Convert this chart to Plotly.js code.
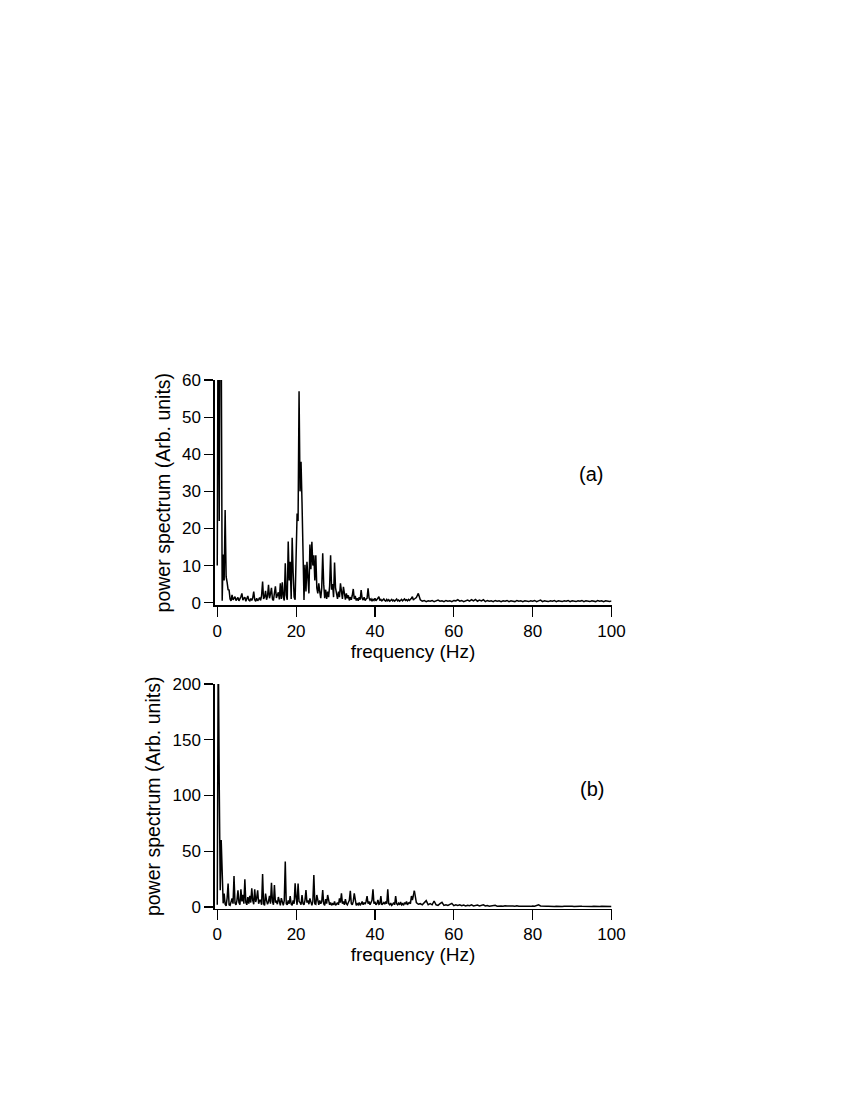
<!DOCTYPE html>
<html>
<head>
<meta charset="utf-8">
<script src="https://cdn.plot.ly/plotly-3.0.1.min.js"></script>
<style>html,body{margin:0;padding:0;background:#fff;}#chart{width:850px;height:1100px;}</style>
</head>
<body>
<div id="chart"></div>
<script>
// Panel (a): power spectrum, 0-50 Hz sampled every 0.25 Hz
const freqStartLowA = 0, freqStepLowA = 0.25;
const powerLowA = [
  10, 95, 22, 90, 75, 0.5, 13, 6, 25, 7, 5.5, 3.5, 3.4, 1.0, 0.5, 2.1, 0.8, 1.2, 1.6, 0.6,
  0.9, 1.4, 0.5, 0.9, 1.6, 2.5, 0.7, 1.2, 1.5, 0.4, 0.9, 1.8, 0.7, 0.5, 1.1, 0.6, 1.3, 3.0, 0.8, 0.4,
  1.2, 0.5, 0.9, 1.4, 0.6, 2.0, 5.7, 1.0, 1.5, 3.2, 0.8, 1.8, 4.8, 1.2, 2.4, 4.0, 1.0, 0.6, 2.6, 4.4,
  1.3, 2.2, 2.8, 0.9, 5.2, 1.0, 5.5, 1.5, 0.6, 10.6, 2.0, 0.8, 16.5, 6.0, 11.0, 1.0, 17.5, 8.0, 1.5, 0.8,
  12.0, 24.0, 22.0, 57.0, 30.0, 38.0, 27.0, 10.0, 0.7, 10.2, 3.0, 11.0, 6.5, 2.5, 15.7, 9.0, 16.4, 10.0, 12.8, 6.0,
  12.8, 4.0, 2.5, 5.2, 3.0, 1.2, 4.0, 13.3, 5.0, 1.2, 3.5, 1.0, 3.0, 1.5, 4.5, 12.8, 3.5, 5.0, 1.5, 10.8,
  4.0, 2.0, 1.0, 3.0, 1.5, 5.2, 2.0, 1.0, 4.3, 1.5, 0.8, 2.5, 1.2, 2.0, 0.6, 1.5, 0.8, 2.0, 3.7, 1.0,
  1.8, 0.6, 1.2, 0.5, 1.5, 0.8, 3.4, 1.2, 0.7, 1.5, 0.6, 1.0, 1.2, 3.9, 1.3, 0.7, 1.0, 0.4, 0.9, 0.6,
  1.2, 0.5, 0.8, 1.4, 1.6, 0.6, 0.9, 0.5, 0.7, 1.0, 0.6, 0.4, 0.9, 0.5, 0.8, 0.4, 0.6, 0.9, 0.5, 0.7,
  0.4, 0.8, 1.0, 0.5, 0.7, 0.4, 0.6, 0.9, 0.5, 0.7, 1.0, 0.6, 0.8, 0.5, 0.9, 0.6, 0.8, 1.2, 1.6, 0.7,
  1.0
];
// Panel (a): 50-100 Hz sampled every 0.5 Hz
const freqStartHighA = 50, freqStepHighA = 0.5;
const powerHighA = [
  1.0, 1.4, 2.5, 0.8, 0.4, 0.6, 0.3, 0.5, 0.4, 0.6, 0.3, 0.5, 0.7, 0.4, 0.5, 0.3, 0.6, 0.4, 0.5, 0.3,
  0.6, 0.5, 0.8, 0.4, 0.6, 0.3, 0.5, 0.7, 0.4, 0.8, 0.5, 0.9, 0.4, 0.7, 0.5, 0.8, 0.3, 0.6, 0.4, 0.5,
  0.3, 0.6, 0.4, 0.5, 0.3, 0.5, 0.4, 0.6, 0.3, 0.5, 0.4, 0.3, 0.6, 0.4, 0.5, 0.3, 0.5, 0.4, 0.3, 0.5,
  0.4, 0.6, 0.3, 0.5, 0.7, 0.3, 0.5, 0.4, 0.3, 0.5, 0.4, 0.6, 0.3, 0.5, 0.4, 0.3, 0.5, 0.4, 0.6, 0.3,
  0.5, 0.4, 0.3, 0.5, 0.4, 0.6, 0.3, 0.5, 0.4, 0.3, 0.5, 0.4, 0.3, 0.6, 0.4, 0.5, 0.3, 0.5, 0.4, 0.3,
  0.5
];

// Panel (b): power spectrum, 0-50 Hz sampled every 0.25 Hz
const freqStartLowB = 0, freqStepLowB = 0.25;
const powerLowB = [
  2, 240, 111, 15, 60, 37, 3.3, 12, 2.5, 1.0, 8, 21, 2.0, 1.5, 6, 7.8, 3.0, 27.8, 3.5, 2.0,
  6.0, 15.0, 4.0, 2.0, 15.8, 5.0, 11.0, 3.0, 24.8, 4.0, 2.0, 9.0, 3.0, 10.0, 4.0, 16.7, 6.0, 2.5, 15.8, 4.5,
  8.0, 15.0, 3.0, 6.0, 6.0, 2.0, 29.6, 3.0, 1.5, 12.0, 6.0, 2.5, 5.0, 10.0, 3.0, 21.8, 5.0, 2.0, 19.7, 4.0,
  5.0, 2.5, 9.0, 3.0, 1.5, 8.0, 3.5, 1.5, 6.0, 40.7, 3.0, 2.0, 6.0, 3.0, 9.7, 2.5, 1.5, 6.0, 3.0, 21.2,
  8.0, 2.0, 21.0, 5.0, 4.0, 2.0, 10.8, 3.0, 2.0, 6.0, 15.2, 4.0, 6.0, 2.5, 7.8, 3.0, 1.5, 5.0, 28.7, 3.0,
  2.5, 10.8, 4.0, 2.0, 6.0, 3.0, 5.0, 15.2, 3.0, 1.5, 7.0, 3.0, 10.8, 5.0, 2.0, 4.0, 1.5, 3.0, 2.0, 5.0,
  1.5, 2.5, 4.0, 2.0, 7.8, 4.0, 12.3, 3.0, 5.0, 2.0, 7.0, 3.0, 2.0, 4.0, 6.0, 14.6, 3.0, 2.0, 5.0, 12.3,
  4.0, 1.5, 3.0, 2.0, 4.0, 1.5, 3.0, 5.0, 2.0, 4.0, 2.5, 5.0, 9.7, 3.0, 5.0, 2.0, 4.0, 6.0, 15.8, 3.0,
  4.8, 2.0, 3.0, 6.3, 2.5, 3.0, 9.9, 2.0, 3.0, 4.0, 2.5, 5.0, 3.0, 15.8, 3.0, 2.0, 3.5, 1.5, 2.5, 4.0,
  2.0, 9.9, 3.0, 2.0, 3.5, 2.0, 4.5, 2.0, 3.0, 1.5, 4.0, 2.5, 5.0, 2.0, 3.5, 4.0, 3.0, 9.9, 6.3, 10.0,
  14.6
];
// Panel (b): 50-100 Hz sampled every 0.5 Hz
const freqStartHighB = 50, freqStepHighB = 0.5;
const powerHighB = [
  14.6, 4.0, 2.5, 3.0, 2.0, 3.5, 5.7, 2.0, 3.0, 2.0, 5.4, 2.0, 1.5, 3.0, 4.2, 1.5, 2.0, 1.5, 2.5, 3.3,
  1.2, 2.0, 1.5, 2.0, 1.2, 1.8, 1.0, 1.5, 1.2, 2.0, 1.0, 1.5, 1.8, 1.0, 1.4, 2.0, 1.0, 1.3, 0.8, 1.2,
  1.0, 1.5, 0.8, 1.2, 1.0, 0.7, 1.2, 0.9, 1.1, 0.7, 1.0, 0.8, 1.2, 0.7, 1.0, 0.8, 0.6, 1.0, 0.8, 0.6,
  1.0, 0.7, 1.2, 2.0, 1.0, 0.7, 0.9, 0.6, 0.8, 0.6, 0.9, 0.5, 0.8, 0.6, 0.7, 0.5, 0.8, 0.6, 0.5, 0.8,
  0.6, 0.5, 0.7, 0.5, 0.8, 0.6, 0.5, 0.7, 0.5, 0.6, 0.4, 0.7, 0.5, 0.6, 0.4, 0.6, 0.5, 0.4, 0.6, 0.5,
  0.5
];

const xTickVals = [0, 20, 40, 60, 80, 100];
const yTickValsA = [0, 10, 20, 30, 40, 50, 60];
const yTickValsB = [0, 50, 100, 150, 200];
const xTitle = 'frequency (Hz)';
const yTitle = 'power spectrum (Arb. units)';
const panelLabels = ['(a)', '(b)'];

const lineStyle = {color: '#000', width: 1.5};
function tr(y, x0, dx, xa, ya) {
  return {type: 'scatter', mode: 'lines', y: y, x0: x0, dx: dx, xaxis: xa, yaxis: ya,
          line: lineStyle, hoverinfo: 'skip', showlegend: false};
}
const data = [
  tr(powerLowA, freqStartLowA, freqStepLowA, 'x', 'y'),
  tr(powerHighA, freqStartHighA, freqStepHighA, 'x', 'y'),
  tr(powerLowB, freqStartLowB, freqStepLowB, 'x2', 'y2'),
  tr(powerHighB, freqStartHighB, freqStepHighB, 'x2', 'y2')
];

const FONT = 'Liberation Sans, Arial, Helvetica, sans-serif';
const tickFont = {family: FONT, size: 17, color: '#000'};
const titleFontX = {family: FONT, size: 19, color: '#000'};
const titleFontY = {family: FONT, size: 19.5, color: '#000'};
function xAxis(anchor) {
  return {domain: [214.5/850, 611.5/850], anchor: anchor, range: [-0.7, 100],
    tickmode: 'array', tickvals: xTickVals, ticks: 'outside', ticklen: 10, tickwidth: 1.2, tickcolor: '#000',
    showline: true, linecolor: '#000', linewidth: 1.2, showgrid: false, zeroline: false,
    tickfont: tickFont, title: {text: xTitle, font: titleFontX, standoff: 0}, automargin: false};
}
function yAxis(domain, range, vals, anchor) {
  return {domain: domain, anchor: anchor, range: range,
    tickmode: 'array', tickvals: vals, ticks: 'outside', ticklen: 9, tickwidth: 1.2, tickcolor: '#000',
    showline: true, linecolor: '#000', linewidth: 1.2, showgrid: false, zeroline: false,
    tickfont: tickFont, title: {text: yTitle, font: titleFontY, standoff: 6}, automargin: false};
}

const layout = {
  width: 850, height: 1100,
  margin: {l: 0, r: 0, t: 0, b: 0},
  paper_bgcolor: '#fff', plot_bgcolor: '#fff',
  showlegend: false,
  xaxis: xAxis('y'),
  yaxis: yAxis([1 - 605.3/1100, 1 - 380/1100], [-0.7, 60], yTickValsA, 'x'),
  xaxis2: xAxis('y2'),
  yaxis2: yAxis([1 - 908.7/1100, 1 - 684/1100], [-1.5, 200], yTickValsB, 'x2'),
  annotations: [
    {text: panelLabels[0], xref: 'paper', yref: 'paper', x: 591/850, y: 1 - 474/1100,
     showarrow: false, font: {family: FONT, size: 20, color: '#000'}, xanchor: 'center', yanchor: 'middle'},
    {text: panelLabels[1], xref: 'paper', yref: 'paper', x: 592/850, y: 1 - 789/1100,
     showarrow: false, font: {family: FONT, size: 20, color: '#000'}, xanchor: 'center', yanchor: 'middle'}
  ]
};

Plotly.newPlot('chart', data, layout, {staticPlot: true, displayModeBar: false});
</script>
</body>
</html>
